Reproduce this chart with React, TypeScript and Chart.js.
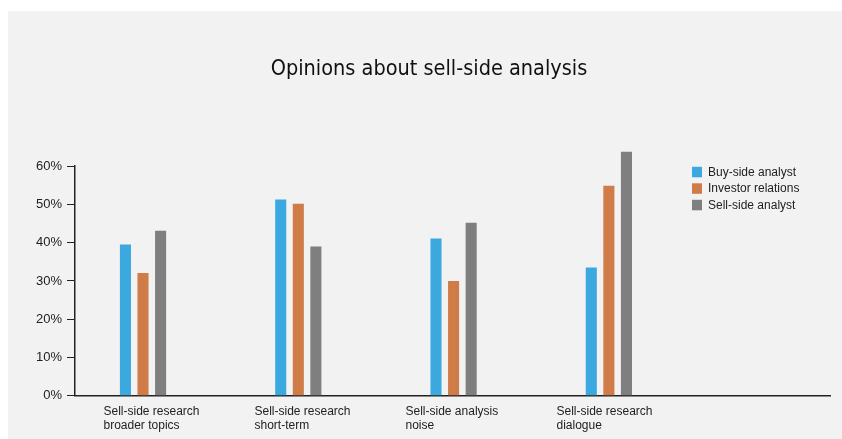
import React, { useEffect, useRef } from 'react';
import { Chart, registerables } from 'chart.js';

Chart.register(...registerables);

// ---- data ----
const categories: string[][] = [
  ['Sell-side research', 'broader topics'],
  ['Sell-side research', 'short-term'],
  ['Sell-side analysis', 'noise'],
  ['Sell-side research', 'dialogue'],
  [''],
];
const seriesNames = ['Buy-side analyst', 'Investor relations', 'Sell-side analyst'];
const buySideAnalyst = [39.5, 51.3, 41.1, 33.5];
const investorRelations = [32.1, 50.2, 30.0, 54.9];
const sellSideAnalyst = [43.1, 39.0, 45.2, 63.8];
const seriesColors = ['#3ba8e0', '#d07c48', '#7f7f7f'];
const yMin = 0;
const yMax = 60;
const yStep = 10;
const titleText = 'Opinions about sell-side analysis';

const FONT = '"Liberation Sans", Arial, Helvetica, sans-serif';

const insideLegend = {
  id: 'insideLegend',
  afterDraw(chart: any) {
    const { ctx, chartArea } = chart;
    ctx.save();
    ctx.font = `12px ${FONT}`;
    ctx.textBaseline = 'middle';
    ctx.textAlign = 'left';
    chart.data.datasets.forEach((ds: any, i: number) => {
      const x = chartArea.right - 138;
      const y = chartArea.top + 0.6 + i * 16.5;
      ctx.fillStyle = ds.backgroundColor;
      ctx.fillRect(x, y, 10, 10.5);
      ctx.fillStyle = '#222';
      ctx.fillText(ds.label, x + 16, y + 5.5);
    });
    ctx.restore();
  },
};

export default function App() {
  const ref = useRef<HTMLCanvasElement>(null);
  useEffect(() => {
    document.body.style.overflow = 'hidden';
    const series = [buySideAnalyst, investorRelations, sellSideAnalyst];
    const chart = new Chart(ref.current as HTMLCanvasElement, {
      type: 'bar',
      data: {
        labels: categories as any,
        datasets: series.map((vals, s) => ({
          label: seriesNames[s],
          data: vals.map((v, i) => ({ x: i, y: v })),
          backgroundColor: seriesColors[s],
          xAxisID: 'xb',
          yAxisID: 'y',
          categoryPercentage: 0.394,
          barPercentage: 0.63,
          clip: false as any,
        })),
      },
      options: {
        responsive: false,
        animation: false,
        devicePixelRatio: 1,
        events: [],
        layout: { padding: { left: 20, right: 12, top: 0, bottom: 0 } },
        plugins: {
          legend: { display: false },
          tooltip: { enabled: false },
          title: {
            display: true,
            text: titleText,
            color: '#111',
            font: { family: '"DejaVu Sans Condensed", "DejaVu Sans", sans-serif', size: 21.5, weight: 'normal', lineHeight: 1.2 },
            padding: { top: 46, bottom: 83.4 },
          },
        },
        scales: {
          x: {
            type: 'category',
            offset: true,
            afterFit: (s: any) => { s.height = 43.3; },
            grid: { display: false, drawTicks: false },
            border: { display: true, color: '#222', width: 1.5 },
            ticks: {
              align: 'start',
              labelOffset: -47,
              padding: 9,
              autoSkip: false,
              maxRotation: 0,
              minRotation: 0,
              color: '#222',
              font: { family: FONT, size: 12, lineHeight: 1.17 },
            },
          },
          xb: {
            type: 'linear',
            display: false,
            offset: false,
            bounds: 'data',
            min: -0.438,
            max: 4.424,
            grid: { offset: false },
            ticks: { stepSize: 1, includeBounds: false },
          },
          y: {
            type: 'linear',
            min: yMin,
            max: yMax,
            afterFit: (s: any) => { s.width = 47; },
            grid: { drawOnChartArea: false, drawTicks: true, tickLength: 8, color: '#222', tickColor: '#222', tickWidth: 1 },
            border: { display: true, color: '#222', width: 1.5 },
            ticks: {
              stepSize: yStep,
              padding: 5,
              color: '#222',
              font: { family: FONT, size: 13 },
              callback: (v: any) => `${v}%`,
            },
          },
        },
      } as any,
      plugins: [insideLegend],
    });
    return () => chart.destroy();
  }, []);
  return (
    <div style={{ position: 'absolute', left: 8, top: 11, width: 834, height: 428, background: '#f2f2f2' }}>
      <canvas ref={ref} width={834} height={428} style={{ display: 'block' }} />
    </div>
  );
}
